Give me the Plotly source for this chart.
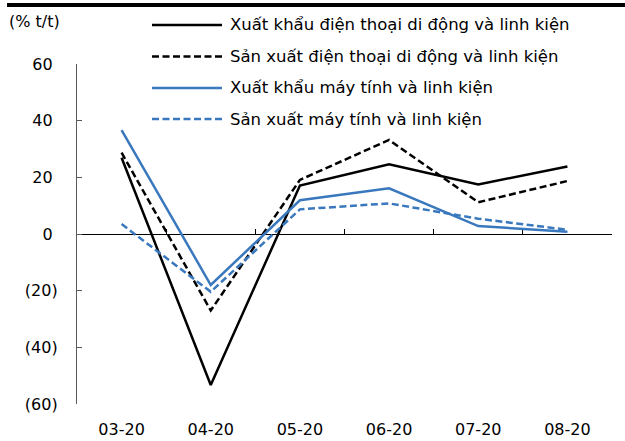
import plotly.graph_objects as go

# Month labels (mm-yy)
months = ["03-20", "04-20", "05-20", "06-20", "07-20", "08-20"]

# Year-on-year growth, %
phone_export = [26.9, -53.3, 17.1, 24.6, 17.5, 23.8]
phone_output = [28.7, -27.0, 19.1, 33.2, 11.2, 18.7]
pc_export = [36.7, -18.0, 11.9, 16.1, 2.8, 0.8]
pc_output = [3.5, -20.4, 8.7, 10.8, 5.4, 1.5]

series_names = [
    "Xuất khẩu điện thoại di động và linh kiện",
    "Sản xuất điện thoại di động và linh kiện",
    "Xuất khẩu máy tính và linh kiện",
    "Sản xuất máy tính và linh kiện",
]

y_ticks = [-60, -40, -20, 0, 20, 40, 60]
y_ticktext = [f"({abs(v)})" if v < 0 else f"{v}\u00a0" for v in y_ticks]

BLACK = "#000000"
BLUE = "#3A78BE"
DASH = "7px,3.5px"
FONT = "DejaVu Sans"

series = [
    (phone_export, BLACK, "solid"),
    (phone_output, BLACK, DASH),
    (pc_export, BLUE, "solid"),
    (pc_output, BLUE, DASH),
]

fig = go.Figure()

# Helper trace so the zero-line axis (x2) is rendered
fig.add_trace(go.Scatter(x=[], y=[], xaxis="x2", showlegend=False, hoverinfo="skip"))

for (vals, color, dash), name in zip(series, series_names):
    fig.add_trace(go.Scatter(
        x=months, y=vals, name=name, mode="lines",
        line=dict(color=color, width=2.5, dash=dash),
        showlegend=False,
    ))

ymin, ymax = -60, 60
n = len(months)

fig.update_layout(
    width=625, height=441,
    margin=dict(l=77, r=13, t=64, b=37),
    paper_bgcolor="white", plot_bgcolor="white",
    font=dict(family=FONT, size=16, color="#000000"),
    xaxis=dict(
        type="category", categoryarray=months, range=[-0.5, n - 0.5],
        showline=False, showgrid=False, zeroline=False, ticks="",
        tickfont=dict(size=16), ticklabelstandoff=14, automargin=False,
    ),
    xaxis2=dict(
        overlaying="x", anchor="free", side="bottom",
        position=(0 - ymin) / (ymax - ymin),
        type="linear", range=[-0.5, n - 0.5],
        tickvals=[i - 0.5 for i in range(n + 1)],
        ticks="inside", ticklen=5, tickwidth=1.3, tickcolor=BLACK,
        showline=True, linecolor=BLACK, linewidth=1.3,
        showticklabels=False, showgrid=False, zeroline=False,
        layer="below traces", automargin=False,
    ),
    yaxis=dict(
        range=[ymin, ymax], tickvals=y_ticks, ticktext=y_ticktext,
        showline=True, linecolor="#595959", linewidth=1.2,
        ticks="outside", ticklen=0, tickcolor="#595959", tickwidth=1.2,
        showgrid=False, zeroline=False, automargin=False,
        tickfont=dict(size=16), ticklabelstandoff=15,
    ),
    showlegend=False,
)

# Inward tick marks on the y axis
fig.add_trace(go.Scatter(x=[], y=[], yaxis="y2", showlegend=False, hoverinfo="skip"))
fig.update_layout(
    yaxis2=dict(
        overlaying="y", anchor="x", side="left", range=[ymin, ymax],
        tickvals=y_ticks, ticks="inside", ticklen=5, tickcolor="#595959", tickwidth=1.2,
        showticklabels=False, showline=False, showgrid=False, zeroline=False,
        automargin=False,
    )
)

# Unit label
fig.add_annotation(
    text="(% t/t)", xref="paper", yref="paper", x=(7 - 77) / 535, y=(404 - 21) / 340,
    xanchor="left", yanchor="middle", showarrow=False, font=dict(size=16),
)

# Heavy rule across the top
fig.add_shape(
    type="rect", xref="paper", yref="paper",
    x0=(7 - 77) / 535, x1=(625 - 77) / 535, y0=(404 - 7) / 340, y1=(404 - 3) / 340,
    fillcolor=BLACK, line=dict(width=0),
)

# Legend drawn as line samples with labels
row_y = [25, 56.5, 88, 119]
for (vals, color, dash), name, py in zip(series, series_names, row_y):
    yp = (404 - py) / 340
    fig.add_shape(
        type="line", xref="paper", yref="paper",
        x0=(152 - 77) / 535, x1=(222 - 77) / 535, y0=yp, y1=yp,
        line=dict(color=color, width=2.5, dash=dash),
    )
    fig.add_annotation(
        text=name, xref="paper", yref="paper", x=(228 - 77) / 535, y=yp,
        xanchor="left", yanchor="middle", showarrow=False, font=dict(size=16.5),
    )

fig.write_html("out.html")
